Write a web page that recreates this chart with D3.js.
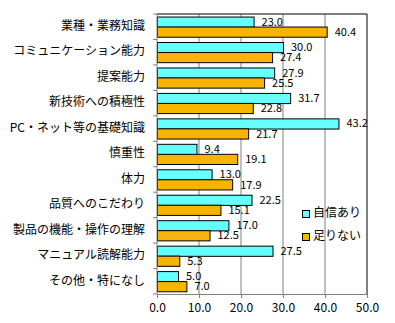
<!DOCTYPE html>
<html>
<head>
<meta charset="utf-8">
<script src="https://cdn.jsdelivr.net/npm/d3@7"></script>
<style>
  body { margin: 0; background: #fff; }
  text { font-family: "Noto Sans CJK JP", sans-serif; fill: #000; }
</style>
</head>
<body>
<script>
const categories = ['業種・業務知識', 'コミュニケーション能力', '提案能力', '新技術への積極性',
  'PC・ネット等の基礎知識', '慎重性', '体力', '品質へのこだわり', '製品の機能・操作の理解',
  'マニュアル読解能力', 'その他・特になし']
const confident = [23.0, 30.0, 27.9, 31.7, 43.2, 9.4, 13.0, 22.5, 17.0, 27.5, 5.0]
const lacking = [40.4, 27.4, 25.5, 22.8, 21.7, 19.1, 17.9, 15.1, 12.5, 5.3, 7.0]
const seriesNames = ['自信あり', '足りない']
const xTicks = [0, 10, 20, 30, 40, 50]

const width = 395
const height = 323
const plot = { left: 157, right: 367, top: 14, bottom: 294 }

const svg = d3.select('body').append('svg')
  .attr('width', width)
  .attr('height', height)

// orange dither pattern
const pat = svg.append('defs').append('pattern')
  .attr('id', 'dots')
  .attr('width', 2).attr('height', 2)
  .attr('patternUnits', 'userSpaceOnUse')
pat.append('rect').attr('width', 2).attr('height', 2).attr('fill', '#FFC000')
pat.append('rect').attr('width', 1).attr('height', 1).attr('fill', '#F0A800')
pat.append('rect').attr('x', 1).attr('y', 1).attr('width', 1).attr('height', 1).attr('fill', '#F0A800')

const colors = ['#66FFFF', 'url(#dots)']

const x = d3.scaleLinear().domain([0, 50]).range([plot.left, plot.right])
const y = d3.scaleBand().domain(categories).range([plot.top, plot.bottom])
  .paddingInner(0.2).paddingOuter(0.1)
const ySub = d3.scaleBand().domain([0, 1]).range([0, y.bandwidth()])

// gridlines
svg.append('g')
  .selectAll('line')
  .data(xTicks.slice(1, -1))
  .enter()
  .append('line')
  .attr('x1', d => x(d)).attr('x2', d => x(d))
  .attr('y1', plot.top).attr('y2', plot.bottom)
  .attr('stroke', '#808080')

// top and right border
svg.append('path')
  .attr('d', `M${plot.left},${plot.top}H${plot.right}V${plot.bottom}`)
  .attr('fill', 'none')
  .attr('stroke', '#000')

// bars
const rows = categories.map((c, i) => ({ c, vals: [confident[i], lacking[i]] }))
const groups = svg.append('g')
  .selectAll('g')
  .data(rows)
  .enter()
  .append('g')
  .attr('transform', d => `translate(0,${y(d.c)})`)

groups.selectAll('rect')
  .data(d => d.vals.map((v, k) => ({ v, k })))
  .enter()
  .append('rect')
  .attr('x', x(0) + 0.5)
  .attr('y', d => Math.round(ySub(d.k)) + 0.5)
  .attr('width', d => x(d.v) - x(0))
  .attr('height', ySub.bandwidth())
  .attr('fill', d => colors[d.k])
  .attr('stroke', '#000')
  .attr('stroke-width', 1)

groups.selectAll('text')
  .data(d => d.vals.map((v, k) => ({ v, k })))
  .enter()
  .append('text')
  .attr('x', d => x(d.v) + 8)
  .attr('y', d => ySub(d.k) + ySub.bandwidth() / 2 + 1)
  .attr('dominant-baseline', 'middle')
  .attr('font-size', 11)
  .text(d => d.v.toFixed(1))

// y axis
const yAxis = svg.append('g')
  .attr('transform', `translate(${plot.left},0)`)
yAxis.append('line')
  .attr('x1', 0).attr('x2', 0)
  .attr('y1', plot.top).attr('y2', plot.bottom)
  .attr('stroke', '#808080')
yAxis.selectAll('line.tick')
  .data(categories.map((c, i) => i).concat([categories.length]))
  .enter()
  .append('line')
  .attr('class', 'tick')
  .attr('x1', -4).attr('x2', 0)
  .attr('y1', i => plot.top + i * y.step()).attr('y2', i => plot.top + i * y.step())
  .attr('stroke', '#808080')
yAxis.selectAll('text')
  .data(categories)
  .enter()
  .append('text')
  .attr('x', -12)
  .attr('y', d => y(d) + y.bandwidth() / 2)
  .attr('text-anchor', 'end')
  .attr('dominant-baseline', 'middle')
  .attr('font-size', 12)
  .text(d => d)

// x axis
const xAxis = d3.axisBottom(x)
  .tickValues(xTicks)
  .tickFormat(d => d.toFixed(1))
  .tickSize(4)
  .tickPadding(5)
const xg = svg.append('g')
  .attr('transform', `translate(0,${plot.bottom})`)
  .call(xAxis)
xg.select('.domain').attr('stroke', '#808080')
xg.selectAll('.tick line').attr('stroke', '#808080')
xg.selectAll('text')
  .attr('font-size', 12)
  .attr('font-family', '"Noto Sans CJK JP", sans-serif')
  .attr('fill', '#000')

// legend
const legend = svg.append('g')
  .selectAll('g')
  .data(seriesNames)
  .enter()
  .append('g')
  .attr('transform', (d, i) => `translate(302,${210 + i * 23})`)
legend.append('rect')
  .attr('x', 0.5).attr('y', 0.5)
  .attr('width', 7).attr('height', 7)
  .attr('fill', (d, i) => colors[i])
  .attr('stroke', '#000')
legend.append('text')
  .attr('x', 11)
  .attr('y', 4)
  .attr('dominant-baseline', 'middle')
  .attr('font-size', 12)
  .text(d => d)
</script>
</body>
</html>
